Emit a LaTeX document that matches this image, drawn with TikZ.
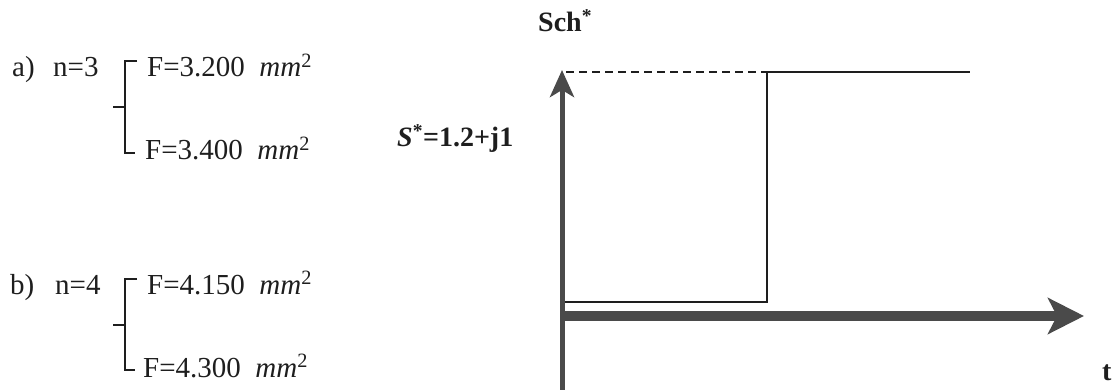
\documentclass[tikz,border=0pt]{standalone}
\usepackage{fontspec}
\setmainfont{Liberation Serif}
\usetikzlibrary{arrows.meta}
\definecolor{ink}{HTML}{1E1E1E}
\definecolor{axisgray}{HTML}{4A4A4A}
\begin{document}
\begin{tikzpicture}[x=1pt,y=-1pt,
  lbl/.style={anchor=base west, inner sep=0pt, text=ink, font=\fontsize{29}{34}\selectfont},
  blbl/.style={anchor=base west, inner sep=0pt, text=ink, font=\fontsize{28}{32}\selectfont\bfseries},
  bracketline/.style={line width=1.4pt, draw=ink},
  yaxis/.style={line width=5pt, draw=axisgray, -{Stealth[length=27pt,width=24pt,inset=7pt]}},
  xaxis/.style={line width=10pt, draw=axisgray, -{Stealth[length=36pt,width=36pt,inset=9pt]}},
  signal/.style={line width=1.8pt, draw=ink},
  levelguide/.style={line width=1.4pt, draw=ink, dash pattern=on 8pt off 5pt}]
\useasboundingbox (0,0) rectangle (1116,390);

% left column texts
\node[lbl] (la) at (12,77) {a)};
\node[lbl] (na) at (53,77) {n=3};
\node[lbl] (fa1) at (147,77) {F=3.200\hspace{0.5em}\textit{mm}\textsuperscript{2}};
\node[lbl] (fa2) at (145,160) {F=3.400\hspace{0.5em}\textit{mm}\textsuperscript{2}};
\node[lbl] (lb) at (10,294) {b)};
\node[lbl] (nb) at (55,294) {n=4};
\node[lbl] (fb1) at (147,294) {F=4.150\hspace{0.5em}\textit{mm}\textsuperscript{2}};
\node[lbl] (fb2) at (143,377) {F=4.300\hspace{0.5em}\textit{mm}\textsuperscript{2}};

% brackets
\coordinate (at) at (137,61);
\coordinate (ab) at (135,153);
\coordinate (am) at (113,107);
\draw[bracketline] (at) -- (125,61) -- (125,153) -- (ab);
\draw[bracketline] (am) -- (125,107);
\coordinate (bt) at (137,279);
\coordinate (bb) at (135,370);
\coordinate (bm) at (113,325);
\draw[bracketline] (bt) -- (125,279) -- (125,370) -- (bb);
\draw[bracketline] (bm) -- (125,325);

% right texts
\node[blbl] (sch) at (538,32) {Sch\textsuperscript{*}};
\node[blbl] (sval) at (397,147) {\textit{S}\textsuperscript{*}=1.2+j1};
\node[blbl] (tlab) at (1102,380) {t};

% axes
\coordinate (o) at (562,316);
\coordinate (ybot) at (562,392);
\coordinate (ytop) at (562,70);
\coordinate (xend) at (1084,316);
\draw[xaxis] (o) -- (xend);
\draw[yaxis] (ybot) -- (ytop);

% signal
\coordinate (s0) at (565,302);
\coordinate (s1) at (767,302);
\coordinate (s2) at (767,72);
\coordinate (s3) at (970,72);
\draw[signal] (s0) -- (s1) -- (s2) -- (s3);
\draw[levelguide] (566,72) -- (s2);
\end{tikzpicture}
\end{document}
